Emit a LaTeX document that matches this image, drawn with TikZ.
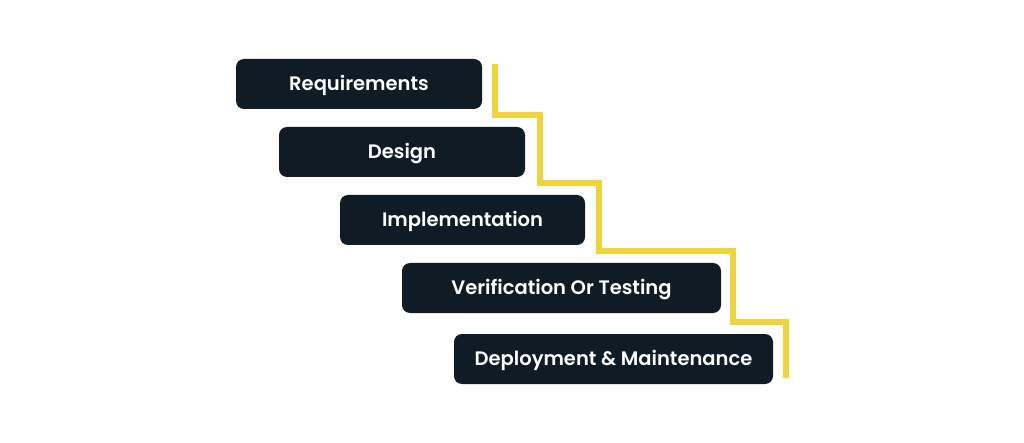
\documentclass[tikz,border=0pt]{standalone}
\usepackage{fontspec}
\setmainfont{Poppins}[BoldFont={* SemiBold}]
\usepackage{xcolor}
\usepackage{tikz}
\definecolor{boxdark}{HTML}{0F1C26}
\definecolor{stairyellow}{HTML}{F0D43F}

\begin{document}
\begin{tikzpicture}[x=1pt,y=-1pt,
	stage/.style={fill=boxdark,rounded corners=8pt,text=white,
		minimum height=50pt,inner sep=0pt,text height=13.5pt,text depth=0pt,
		font=\fontsize{19.5}{22}\selectfont\bfseries}]
	\useasboundingbox (0,0) rectangle (1024,443);
	
	\node[stage,minimum width=246pt] (req) at (359,84) {Requirements};
	\node[stage,minimum width=246pt] (des) at (402,152) {Design};
	\node[stage,minimum width=245pt] (imp) at (462.5,220) {Implementation};
	\node[stage,minimum width=319pt] (ver) at (561.5,288) {Verification Or Testing};
	\node[stage,minimum width=319pt] (dep) at (613.5,359) {Deployment \& Maintenance};
	
	% staircase
	\draw[stairyellow,line width=5.5pt]
		(495,64)--(495,115)--(540,115)--(540,183)--(599,183)--(599,251)
		--(733,251)--(733,322)--(786,322)--(786,378);
\end{tikzpicture}
\end{document}
